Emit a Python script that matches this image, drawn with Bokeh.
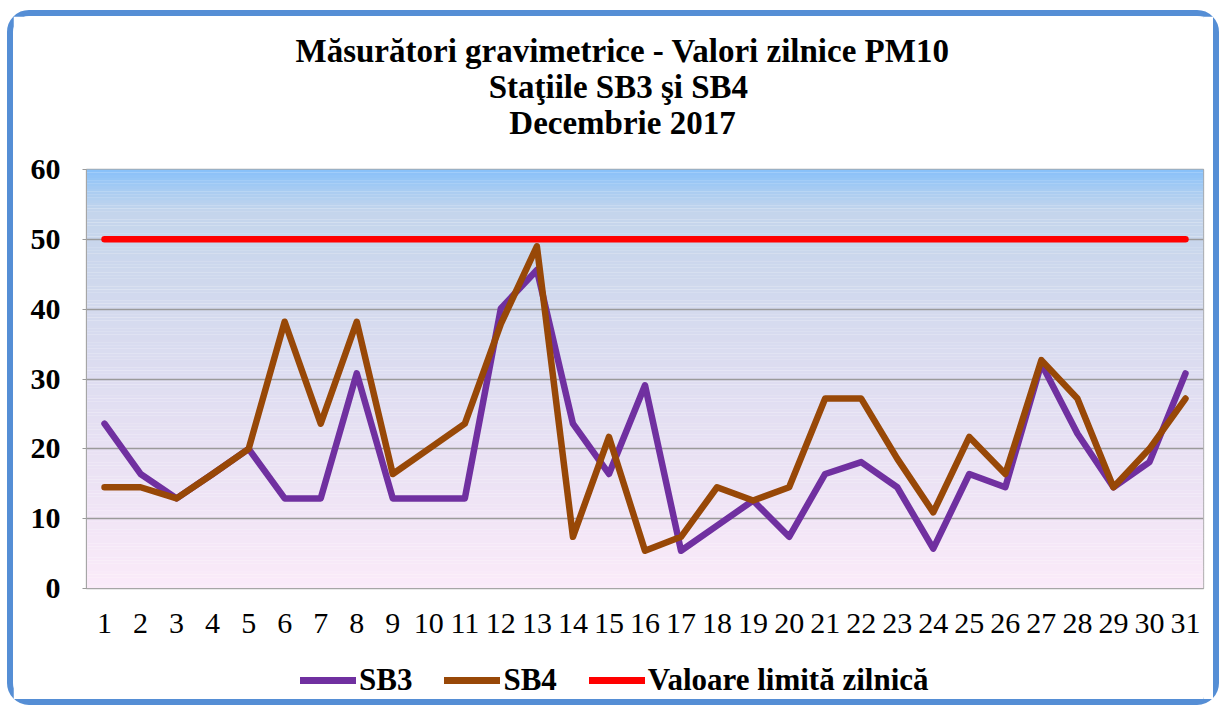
from bokeh.plotting import figure
from bokeh.layouts import column
from bokeh.models import (Range1d, FixedTicker, Legend, LegendItem, Label)
from bokeh.embed import file_html
from bokeh.resources import INLINE

# ---------------- data ----------------
days = list(range(1, 32))
sb3 = [23.6, 16.4, 12.9, 16.4, 20.0, 12.9, 12.9, 30.8, 12.9, 12.9, 12.9,
       40.1, 45.6, 23.6, 16.4, 29.1, 5.4, 9.0, 12.6, 7.4, 16.4,
       18.1, 14.5, 5.7, 16.4, 14.5, 32.2, 22.2, 14.5, 18.1, 30.8]
sb4 = [14.5, 14.5, 12.9, 16.4, 20.0, 38.2, 23.6, 38.2, 16.4, 20.0, 23.6,
       37.9, 49.0, 7.4, 21.7, 5.4, 7.4, 14.5, 12.6, 14.5, 27.2,
       27.2, 18.6, 10.9, 21.7, 16.4, 32.7, 27.2, 14.5, 20.0, 27.2]
limit = 50
y_ticks = [0, 10, 20, 30, 40, 50, 60]
series_names = ["SB3", "SB4", "Valoare limită zilnică"]
title_lines = ["Măsurători gravimetrice - Valori zilnice PM10",
               "Staţiile  SB3 şi SB4",
               "Decembrie 2017"]

FONT = "Liberation Serif"
C_SB3, C_SB4, C_LIM = "#7030a0", "#984807", "#ff0000"
LW = 6.5
WIDTH = 1200
BL, BR = 73, 10                      # shared left / right borders
FRAME_W = WIDTH - BL - BR
TITLE_H, MAIN_H, LEG_H = 131, 493, 59

x_start, x_end = days[0] - 0.5, days[-1] + 0.5
y_start, y_end = y_ticks[0], y_ticks[-1]

# ---------------- title strip ----------------
t = figure(width=WIDTH, height=TITLE_H, output_backend="svg",
           toolbar_location=None, x_axis_location=None, y_axis_location=None,
           x_range=Range1d(0, FRAME_W), y_range=Range1d(TITLE_H, 0),
           min_border_left=BL, min_border_right=BR, min_border_top=0,
           min_border_bottom=0, outline_line_color=None,
           background_fill_color="white", border_fill_color="white")
t.grid.visible = False
for i, line in enumerate(title_lines):
    t.add_layout(Label(x=536, y=34 + 36 * i, text=line, text_align="center",
                       text_baseline="alphabetic", text_font=FONT,
                       text_font_style="bold", text_font_size="33px",
                       text_color="black"))

# ---------------- main chart ----------------
p = figure(width=WIDTH, height=MAIN_H, output_backend="svg",
           toolbar_location=None,
           x_range=Range1d(x_start, x_end), y_range=Range1d(y_start, y_end),
           min_border_left=BL, min_border_right=BR, min_border_top=22,
           min_border_bottom=52, border_fill_color="white",
           background_fill_color="white")
p.outline_line_color = "#a6a6a6"
p.outline_line_width = 1.3

# gradient background (styling only)
stops = [(0, (251, 235, 249)), (10, (241, 229, 246)), (20, (232, 225, 243)),
         (30, (222, 221, 241)), (40, (212, 218, 238)), (50, (200, 214, 236)),
         (54, (196, 213, 236)), (57, (168, 204, 242)), (60, (135, 192, 249))]

def colour_at(v):
    for (a, ca), (b, cb) in zip(stops[:-1], stops[1:]):
        if a <= v <= b:
            f = (v - a) / (b - a)
            c = [round(ca[k] + (cb[k] - ca[k]) * f) for k in range(3)]
            return "#%02x%02x%02x" % tuple(c)
    return "#%02x%02x%02x" % stops[-1][1]

n = 150
step = (y_end - y_start) / n
bots = [y_start + k * step for k in range(n)]
tops = [b + step * 1.05 for b in bots]
cols = [colour_at(b + step / 2) for b in bots]
p.quad(left=x_start, right=x_end, bottom=bots, top=tops, fill_color=cols,
       line_color=None, level="image")

p.xgrid.visible = False
p.ygrid.ticker = FixedTicker(ticks=y_ticks)
p.ygrid.grid_line_color = "#9a9a9a"
p.ygrid.grid_line_width = 1.3

p.yaxis.ticker = FixedTicker(ticks=y_ticks)
p.yaxis.axis_line_color = "#a6a6a6"
p.yaxis.major_tick_line_color = "#9a9a9a"
p.yaxis.major_tick_out = 4
p.yaxis.major_tick_in = 0
p.yaxis.minor_tick_line_color = None
p.yaxis.major_label_standoff = 22
p.yaxis.major_label_text_font = FONT
p.yaxis.major_label_text_font_style = "bold"
p.yaxis.major_label_text_font_size = "30px"
p.yaxis.major_label_text_color = "black"

p.xaxis.ticker = FixedTicker(ticks=days)
p.xaxis.axis_line_color = "#a6a6a6"
p.xaxis.major_tick_line_color = None
p.xaxis.minor_tick_line_color = None
p.xaxis.major_label_standoff = 19
p.xaxis.major_label_text_font = FONT
p.xaxis.major_label_text_font_size = "30px"
p.xaxis.major_label_text_color = "black"

p.line(days, sb3, line_color=C_SB3, line_width=LW,
       line_join="round", line_cap="round")
p.line(days, sb4, line_color=C_SB4, line_width=LW,
       line_join="round", line_cap="round")
p.line([days[0], days[-1]], [limit, limit], line_color=C_LIM,
       line_width=LW, line_cap="round")

# ---------------- legend strip ----------------
q = figure(width=WIDTH, height=LEG_H, output_backend="svg",
           toolbar_location=None, x_axis_location=None, y_axis_location=None,
           x_range=Range1d(0, 1), y_range=Range1d(-2, -1),
           min_border_left=BL, min_border_right=BR, min_border_top=21,
           min_border_bottom=0, outline_line_color=None,
           background_fill_color="white", border_fill_color="white")
q.grid.visible = False
l3 = q.line(days, sb3, line_color=C_SB3, line_width=7, line_cap="round")
l4 = q.line(days, sb4, line_color=C_SB4, line_width=7, line_cap="round")
ll = q.line([days[0], days[-1]], [limit, limit], line_color=C_LIM,
            line_width=7, line_cap="round")
legend = Legend(items=[LegendItem(label=series_names[0], renderers=[l3]),
                       LegendItem(label=series_names[1], renderers=[l4]),
                       LegendItem(label=series_names[2], renderers=[ll])],
                orientation="horizontal", location="left",
                label_text_font=FONT, label_text_font_style="bold",
                label_text_font_size="31px", label_text_color="black",
                glyph_width=56, glyph_height=30, label_standoff=3,
                spacing=32, padding=0, margin=214,
                border_line_color=None, background_fill_alpha=0)
q.add_layout(legend)

layout = column(t, p, q, spacing=0,
                styles={"box-sizing": "content-box",
                        "border": "6px solid #558ed5",
                        "border-radius": "22px",
                        "margin": "10px 0px 0px 7px",
                        "background-color": "white"})

open("out.html", "w").write(file_html(layout, INLINE))
